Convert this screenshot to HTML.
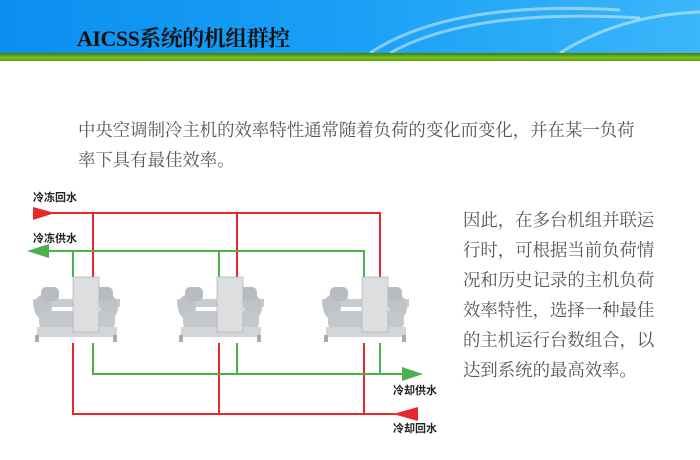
<!DOCTYPE html>
<html><head><meta charset="utf-8"><style>
body{margin:0;width:700px;height:460px;background:#fff;position:relative;overflow:hidden;font-family:"Liberation Serif","Noto Serif CJK SC",serif}
.hdr{position:absolute;left:0;top:0;width:700px;height:53px;background:linear-gradient(90deg,#0a8ff0 0%,#1aa0f5 50%,#3bb6fa 100%)}
.bar{position:absolute;left:0;top:53px;width:700px;height:8px;background:linear-gradient(180deg,#3a7d10,#7cc21e 60%,#5aa010)}
.title{position:absolute;left:77px;top:22px;font-size:22px;font-weight:bold;color:#111;letter-spacing:-0.5px;white-space:nowrap}
.p{position:absolute;color:#555;font-size:17.4px;line-height:30px;white-space:nowrap}
.lbl{font-family:"Liberation Sans","Noto Sans CJK SC",sans-serif;font-size:11px;font-weight:bold;fill:#222}
</style></head><body>
<div class="hdr"><svg width="700" height="53" style="position:absolute;left:0;top:0"><g fill="none" stroke="#fff" stroke-opacity="0.45" stroke-width="3"><path d="M370 53 Q450 0 620 10"/><path d="M390 53 Q470 8 640 18"/><path d="M560 53 Q620 15 700 12"/></g></svg></div>
<div class="bar"></div>
<div class="title">AICSS系统的机组群控</div>
<div class="p" style="left:78px;top:115px">中央空调制冷主机的效率特性通常随着负荷的变化而变化，并在某一负荷<br>率下具有最佳效率。</div>
<div class="p" style="left:463px;top:205px">因此，在多台机组并联运<br>行时，可根据当前负荷情<br>况和历史记录的主机负荷<br>效率特性，选择一种最佳<br>的主机运行台数组合，以<br>达到系统的最高效率。</div>
<svg width="700" height="460" style="position:absolute;left:0;top:0">
<defs><g id="m">
<rect x="0" y="22" width="87" height="8" fill="#c9cccf"/>
<ellipse cx="10" cy="30" rx="9" ry="12" fill="#bfc3c6"/><ellipse cx="76" cy="30" rx="9" ry="12" fill="#bfc3c6"/>
<rect x="6" y="34" width="76" height="18" rx="6" fill="#c5c8cb"/>
<rect x="4" y="50" width="80" height="10" fill="#d3d5d7"/>
<rect x="8" y="10" width="18" height="14" rx="5" fill="#b8bcc0"/><rect x="62" y="10" width="18" height="14" rx="5" fill="#b8bcc0"/>
<rect x="40" y="0" width="26" height="55" fill="#dcdee0" stroke="#b0b3b6" stroke-width="0.7"/>
<rect x="2" y="58" width="4" height="7" fill="#aaa"/><rect x="80" y="58" width="4" height="7" fill="#aaa"/>
</g></defs>
<g stroke="#e8262b" stroke-width="2" fill="none">
<path d="M45 213H380V277M93 213V277M237 213V277"/>
<path d="M73 343V414H395M219 343V414M364 343V414"/>
</g>
<g stroke="#4cb04f" stroke-width="2" fill="none">
<path d="M40 251H364V277M73 251V277M219 251V277"/>
<path d="M93 343V374H405M237 343V374M380 343V374"/>
</g>
<polygon points="33,207 33,220 55,213" fill="#e8262b"/>
<polygon points="418,407 418,421 393,414" fill="#e8262b"/>
<polygon points="49,244 49,258 27,251" fill="#4cb04f"/>
<polygon points="402,367 402,381 423,374" fill="#4cb04f"/>
<use href="#m" x="33" y="277"/><use href="#m" x="177" y="277"/><use href="#m" x="322" y="277"/>
<text class="lbl" x="33" y="201">冷冻回水</text>
<text class="lbl" x="33" y="242">冷冻供水</text>
<text class="lbl" x="393" y="394">冷却供水</text>
<text class="lbl" x="393" y="432">冷却回水</text>
</svg>
</body></html>
